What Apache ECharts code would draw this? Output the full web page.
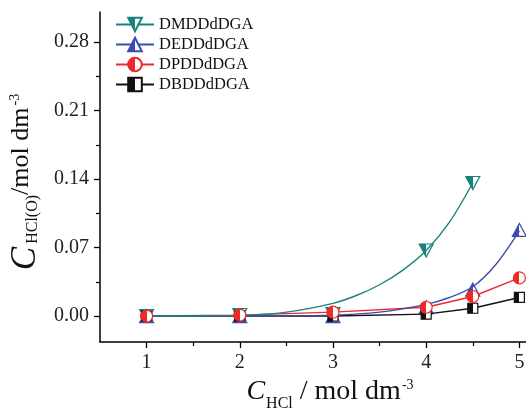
<!DOCTYPE html>
<html><head><meta charset="utf-8">
<script src="https://cdn.jsdelivr.net/npm/echarts@6/dist/echarts.min.js"></script>
<style>html,body{margin:0;padding:0;background:#fff}#c{width:526px;height:408px}</style>
</head><body><div id="c"></div>
<script>
// ---- data ----
const seriesNames = ['DMDDdDGA', 'DEDDdDGA', 'DPDDdDGA', 'DBDDdDGA'];
const xVals = [1, 2, 3, 4, 4.5, 5];
const dmddX = [1, 2, 3, 4, 4.5];
const dmddPts = [0, 0.001, 0.002, 0.067, 0.136];
const deddPts = [0, 0, 0, 0.009, 0.027, 0.088];
const dpddPts = [0, 0.001, 0.004, 0.009, 0.020, 0.039];
const dbddPts = [0, 0, 0, 0.002, 0.008, 0.019];
// fitted curves
const dmddFitX = [1, 1.5, 2, 2.5, 3, 3.25, 3.5, 3.75, 4, 4.25, 4.5];
const dmddFitY = [0, 0, 0.0005, 0.004, 0.013, 0.021, 0.032, 0.047, 0.067, 0.096, 0.136];
const deddFitX = [1, 2, 3, 3.5, 4, 4.25, 4.5, 4.75, 5];
const deddFitY = [0, 0, 0.001, 0.004, 0.012, 0.019, 0.030, 0.053, 0.087];
// ticks
const xTicks = [1, 2, 3, 4, 5];
const xMinor = [1.5, 2.5, 3.5, 4.5];
const yTicks = [0, 0.07, 0.14, 0.21, 0.28];
const yMinor = [0.035, 0.105, 0.175, 0.245];

const colors = { teal: '#17837e', blue: '#3a4cb0', red: '#ec2a2a', black: '#111111' };
const SERIF = '"Liberation Serif", "Times New Roman", serif';
function half(c) {
  return { type: 'linear', x: 0, y: 0, x2: 1, y2: 0,
    colorStops: [{ offset: 0, color: c }, { offset: 0.5, color: c }, { offset: 0.5, color: '#fff' }, { offset: 1, color: '#fff' }] };
}
function pairs(xs, ys) { return ys.map((v, i) => [xs[i], v]); }
const downTri = 'path://M0,0L20,0L10,17.32Z';
const upTri = 'path://M10,0L20,17.32L0,17.32Z';

const axisLine = { show: true, onZero: false, lineStyle: { color: '#000', width: 1.5 } };
const chart = echarts.init(document.getElementById('c'));
chart.setOption({
  animation: false,
  backgroundColor: '#fff',
  grid: { left: 100, right: 0, top: 12, bottom: 66, containLabel: false, outerBoundsMode: 'none' },
  legend: {
    data: seriesNames,
    orient: 'vertical', left: 110, top: 11,
    itemWidth: 38, itemHeight: 17, itemGap: 3,
    textStyle: { fontFamily: SERIF, fontSize: 16.5, color: '#111' }
  },
  xAxis: [{
    type: 'value', min: 0.5, max: 5.071, position: 'bottom',
    axisLine: axisLine,
    axisTick: { show: true, inside: false, length: 6, lineStyle: { color: '#000', width: 1.3 }, customValues: xTicks },
    axisLabel: { customValues: xTicks, margin: 11, fontFamily: SERIF, fontSize: 20, color: '#222' },
    splitLine: { show: false },
    name: '{c|C}{sub|HCl}{n| / mol dm}{sup|-3}',
    nameLocation: 'middle', nameGap: 19,
    nameTextStyle: {
      padding: [0, 0, 0, 34],
      rich: {
        c: { fontFamily: SERIF, fontStyle: 'italic', fontSize: 28, lineHeight: 28, verticalAlign: 'top', color: '#111', padding: [0, 1, 0, 0] },
        n: { fontFamily: SERIF, fontSize: 28, lineHeight: 30, verticalAlign: 'top', color: '#111' },
        sub: { fontFamily: SERIF, fontSize: 16, lineHeight: 16, verticalAlign: 'top', padding: [18, 0, 0, 0], color: '#111' },
        sup: { fontFamily: SERIF, fontSize: 14, lineHeight: 14, verticalAlign: 'top', padding: [0, 0, 0, 1], color: '#111' }
      }
    }
  }, {
    type: 'value', min: 0.5, max: 5.071, position: 'bottom', offset: 0,
    axisLine: { show: false, onZero: false },
    axisTick: { show: true, inside: false, length: 4, lineStyle: { color: '#000', width: 1.2 }, customValues: xMinor },
    axisLabel: { show: false }, splitLine: { show: false }
  }],
  yAxis: [{
    type: 'value', min: -0.0265, max: 0.3107, position: 'left',
    axisLine: axisLine,
    axisTick: { show: true, inside: false, length: 6, lineStyle: { color: '#000', width: 1.3 }, customValues: yTicks },
    axisLabel: { customValues: yTicks, margin: 11, fontFamily: SERIF, fontSize: 20, color: '#222',
      formatter: v => v.toFixed(2) },
    splitLine: { show: false },
    name: '{c|C}{sub|HCl(O)}{n|/mol dm}{sup|-3}',
    nameLocation: 'middle', nameGap: 53, nameRotate: 90,
    nameTextStyle: {
      padding: [0, 10, 0, 0],
      rich: {
        c: { fontFamily: SERIF, fontStyle: 'italic', fontSize: 35, lineHeight: 24, verticalAlign: 'top', color: '#111', padding: [0, 3, 0, 0] },
        n: { fontFamily: SERIF, fontSize: 26, lineHeight: 30, verticalAlign: 'top', color: '#111' },
        sub: { fontFamily: SERIF, fontSize: 16, lineHeight: 16, verticalAlign: 'top', padding: [17, 0, 0, 0], color: '#111' },
        sup: { fontFamily: SERIF, fontSize: 14, lineHeight: 14, verticalAlign: 'top', padding: [0, 0, 0, 2], color: '#111' }
      }
    }
  }, {
    type: 'value', min: -0.0265, max: 0.3107, position: 'left', offset: 0,
    axisLine: { show: false, onZero: false },
    axisTick: { show: true, inside: false, length: 4, lineStyle: { color: '#000', width: 1.2 }, customValues: yMinor },
    axisLabel: { show: false }, splitLine: { show: false }
  }],
  series: [
    {
      name: seriesNames[3], type: 'line', data: pairs(xVals, dbddPts),
      symbol: 'rect', symbolSize: 10, showSymbol: true,
      lineStyle: { color: colors.black, width: 1.4 },
      itemStyle: { color: half(colors.black), borderColor: colors.black, borderWidth: 1.2 }
    },
    {
      name: seriesNames[2], type: 'line', data: pairs(xVals, dpddPts),
      symbol: 'circle', symbolSize: 12, showSymbol: true,
      lineStyle: { color: colors.red, width: 1.4 },
      itemStyle: { color: half(colors.red), borderColor: colors.red, borderWidth: 1.2 }
    },
    {
      name: seriesNames[1], type: 'line', data: pairs(deddFitX, deddFitY),
      smooth: 0.3, symbol: upTri, symbolSize: [14, 13], showSymbol: false,
      lineStyle: { color: colors.blue, width: 1.4 },
      itemStyle: { color: half(colors.blue), borderColor: colors.blue, borderWidth: 1.2 }
    },
    {
      name: seriesNames[1], type: 'scatter', data: pairs(xVals, deddPts),
      symbol: upTri, symbolSize: [14, 13],
      itemStyle: { color: half(colors.blue), borderColor: colors.blue, borderWidth: 1.2, opacity: 1 }
    },
    {
      name: seriesNames[0], type: 'line', data: pairs(dmddFitX, dmddFitY),
      smooth: 0.3, symbol: downTri, symbolSize: [14, 13], showSymbol: false,
      lineStyle: { color: colors.teal, width: 1.4 },
      itemStyle: { color: half(colors.teal), borderColor: colors.teal, borderWidth: 1.2 }
    },
    {
      name: seriesNames[0], type: 'scatter', data: pairs(dmddX, dmddPts),
      symbol: downTri, symbolSize: [14, 13],
      itemStyle: { color: half(colors.teal), borderColor: colors.teal, borderWidth: 1.2, opacity: 1 }
    }
  ]
});
</script>
</body></html>
